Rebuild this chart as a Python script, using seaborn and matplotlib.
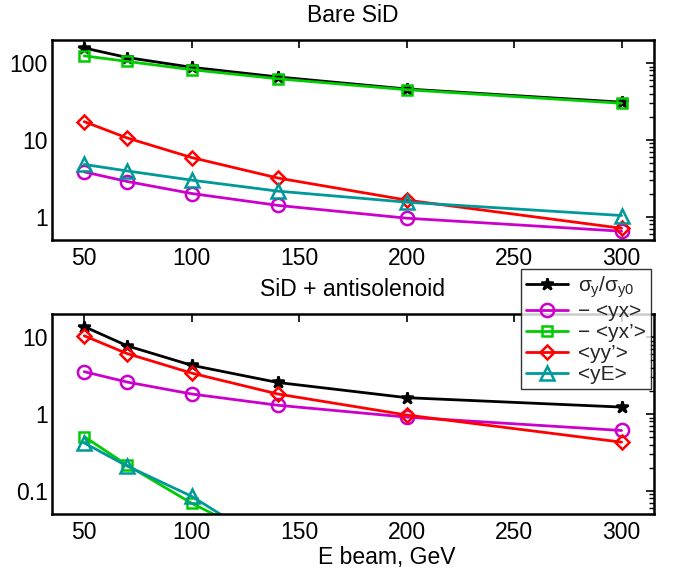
import numpy as np
import pandas as pd
import matplotlib
matplotlib.use("Agg")
import matplotlib.pyplot as plt
import seaborn as sns
from matplotlib.ticker import FixedLocator, FuncFormatter, LogLocator, NullFormatter

sns.set_theme(style="white")
plt.rcParams['font.family'] = ['Liberation Sans', 'DejaVu Sans']
plt.rcParams['mathtext.fontset'] = 'custom'
plt.rcParams['mathtext.rm'] = 'Liberation Sans'
plt.rcParams['mathtext.it'] = 'Liberation Sans'

E = [50, 70, 100, 140, 200, 300]

# Bare SiD
bare_sigma = [157, 118, 88, 66, 46, 31]
bare_yx = [3.84, 2.88, 2.01, 1.41, 0.96, 0.65]
bare_yxp = [124, 105, 82, 62.5, 45, 30]
bare_yyp = [17.3, 10.6, 5.9, 3.2, 1.65, 0.71]
bare_yE = [4.8, 3.95, 3.0, 2.16, 1.55, 1.04]

# SiD + antisolenoid
anti_sigma = [13.7, 7.7, 4.3, 2.57, 1.63, 1.23]
anti_yx = [3.55, 2.6, 1.82, 1.3, 0.91, 0.61]
anti_yxp = [0.507, 0.216, 0.069, 0.019, 0.008, 0.004]
anti_yyp = [10.4, 6.1, 3.4, 1.82, 0.97, 0.43]
anti_yE = [0.42, 0.21, 0.085, 0.017, 0.007, 0.003]

labels = [r'$\sigma_y/\sigma_{y0}$', '\u2212 <yx>', '\u2212 <yx\u2019>', '<yy\u2019>', '<yE>']
colors = ['black', '#cc00cc', '#00cc00', '#ff0000', '#009999']
markers = ['*', 'o', 's', 'D', '^']
msizes = [9, 9.5, 7.5, 7.5, 10]

FS = 16.5

fig = plt.figure(figsize=(6.87, 5.70), dpi=100)
ax1 = fig.add_axes([0.0757, 0.579, 0.876, 0.351])
ax2 = fig.add_axes([0.0757, 0.0982, 0.876, 0.351])

panels = [
    (ax1, [bare_sigma, bare_yx, bare_yxp, bare_yyp, bare_yE], (0.5, 200), [1, 10, 100], 'Bare SiD'),
    (ax2, [anti_sigma, anti_yx, anti_yxp, anti_yyp, anti_yE], (0.05, 20), [0.1, 1, 10], 'SiD + antisolenoid'),
]

for ax, series, ylim, yt, title in panels:
    for vals, lab, col, mk, ms in zip(series, labels, colors, markers, msizes):
        df = pd.DataFrame({'E': E, 'v': vals})
        filled = (mk == '*')
        sns.lineplot(data=df, x='E', y='v', ax=ax, color=col, lw=2.0,
                     marker=mk, markersize=ms,
                     markerfacecolor=col if filled else 'none',
                     markeredgecolor=col, markeredgewidth=1.8,
                     label=lab, legend=False)
    ax.set_yscale('log')
    ax.set_xlim(35, 315)
    ax.set_ylim(*ylim)
    ax.set_xticks([50, 100, 150, 200, 250, 300])
    ax.yaxis.set_major_locator(FixedLocator(yt))
    ax.yaxis.set_major_formatter(FuncFormatter(lambda v, p: ('%g' % v)))
    ax.yaxis.set_minor_locator(LogLocator(base=10, subs=np.arange(2, 10)))
    ax.yaxis.set_minor_formatter(NullFormatter())
    ax.tick_params(axis='both', which='both', direction='in', top=True, right=True,
                   labelsize=FS, colors='black')
    ax.tick_params(which='major', length=6, width=1.2)
    ax.tick_params(which='minor', length=3.5, width=1)
    ax.tick_params(axis='x', pad=5)
    ax.tick_params(axis='y', pad=3)
    for s in ax.spines.values():
        s.set_color('black')
        s.set_linewidth(1.8)
    ax.set_xlabel('')
    ax.set_ylabel('')
    ax.set_title(title, fontsize=FS, pad=13, color='black')

ax2.set_xlabel('E beam, GeV', fontsize=FS, color='black', labelpad=0)
ax2.xaxis.set_label_coords(0.556, -0.16)

handles, labs = ax2.get_legend_handles_labels()
leg = fig.legend(handles, labs, loc='upper left', bbox_to_anchor=(0.758, 0.528),
                 frameon=True, fancybox=False, shadow=False, fontsize=15,
                 handlelength=2.0, borderpad=0.25, labelspacing=0.1,
                 handletextpad=0.5, borderaxespad=0)
leg.get_frame().set_edgecolor('black')
leg.get_frame().set_linewidth(1.0)
leg.get_frame().set_facecolor('white')

fig.savefig('out.png', dpi=100)
